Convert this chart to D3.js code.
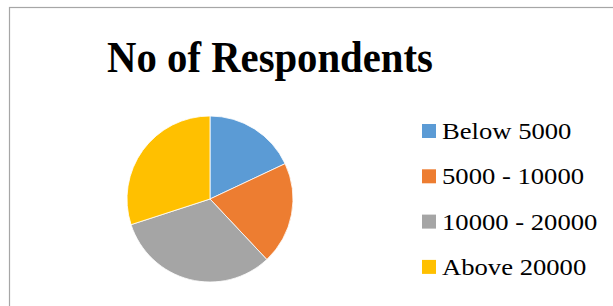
<!DOCTYPE html>
<html>
<head>
<meta charset="utf-8">
<script src="https://cdn.jsdelivr.net/npm/d3@7"></script>
<style>
  body { margin: 0; background: #fff; }
  text { font-family: "Liberation Serif", "Times New Roman", serif; }
</style>
</head>
<body>
<svg width="613" height="306"></svg>
<script>
let categories = ['Below 5000', '5000 - 10000', '10000 - 20000', 'Above 20000'];
let respondents = [18, 20, 32, 30];
let colors = ['#5b9bd5', '#ed7d31', '#a5a5a5', '#ffc000'];

let svg = d3.select('svg');

// chart frame (only top and left edges show in the crop)
svg.append('rect')
    .attr('x', 9.5)
    .attr('y', 7.5)
    .attr('width', 700)
    .attr('height', 400)
    .attr('fill', 'none')
    .attr('stroke', '#a6a6a6')
    .attr('stroke-width', 1.2);

// title is a bit narrower than plain Times bold
svg.append('text')
    .attr('transform', 'translate(270, 72) scale(0.905, 1)')
    .attr('text-anchor', 'middle')
    .style('font-size', '45px')
    .style('font-weight', 'bold')
    .text('No of Respondents');

let pie = d3.pie().sort(null)(respondents);
let arc = d3.arc().innerRadius(0).outerRadius(83);

let g = svg.append('g').attr('transform', 'translate(210, 199)');

g.selectAll('path')
    .data(pie)
  .enter().append('path')
    .attr('d', arc)
    .attr('fill', (d, i) => colors[i])
    .attr('stroke', '#fff')
    .attr('stroke-width', 0.8);

let legend = svg.append('g').attr('transform', 'translate(422, 131)');

let item = legend.selectAll('g')
    .data(categories)
  .enter().append('g')
    .attr('transform', (d, i) => `translate(0, ${i * 45.3})`);

item.append('rect')
    .attr('x', 0)
    .attr('y', -7)
    .attr('width', 14)
    .attr('height', 14)
    .attr('fill', (d, i) => colors[i]);

// legend labels are stretched a little wider
item.append('text')
    .attr('transform', 'translate(20, 8) scale(1.11, 1)')
    .style('font-size', '24px')
    .attr('fill', '#000')
    .text((d) => d);
</script>
</body>
</html>
